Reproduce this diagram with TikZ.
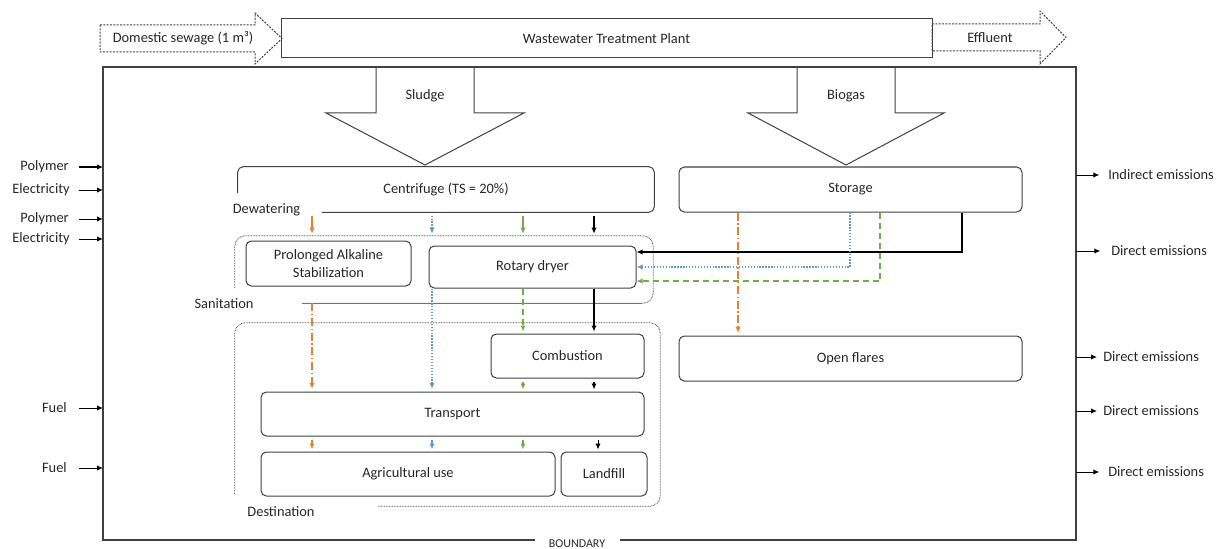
\documentclass[tikz,border=0pt]{standalone}
\usepackage{fontspec}
\setmainfont{Carlito}
\usepackage{tikz}
\usetikzlibrary{arrows.meta}

\definecolor{flowOrange}{RGB}{237,125,49}
\definecolor{flowBlue}{RGB}{91,155,213}
\definecolor{flowGreen}{RGB}{112,173,71}
\definecolor{lineGray}{RGB}{64,64,64}

\tikzset{
    boxsize/.style 2 args={minimum width=#1*0.75pt, minimum height=#2*0.75pt},
    procbox/.style={draw=lineGray, line width=0.75pt, rounded corners=4pt, inner sep=0pt, align=center},
    procline/.style={draw=lineGray, line width=0.75pt, rounded corners=4pt},
    regionline/.style={draw=black!70, line width=0.6pt, dash pattern=on 0.6pt off 0.6pt, rounded corners=8pt},
    bigarrow/.style={draw=lineGray, line width=0.75pt},
    dashedarrow/.style={draw=lineGray, line width=0.75pt, dash pattern=on 1.5pt off 1pt},
    bndline/.style={draw=lineGray, line width=0.9pt},
    sidelabel/.style={inner sep=0pt},
    sidearrow/.style={line width=0.75pt},
    oflow/.style={draw=flowOrange, line width=1.1pt, dash pattern=on 6pt off 2pt on 1pt off 2pt},
    bflow/.style={draw=flowBlue, line width=1.1pt, dash pattern=on 1pt off 1.2pt},
    gflow/.style={draw=flowGreen, line width=1.1pt, dash pattern=on 4.5pt off 3pt},
    kflow/.style={draw=black, line width=1.1pt},
    shortflow/.style={line width=1pt, shorten <=2.5pt, shorten >=1.5pt}
}

\begin{document}
\begin{tikzpicture}[x=0.75pt, y=-0.75pt, text=black!85,
        font=\fontsize{10.8}{13}\selectfont, >={Latex[length=4.5pt,width=4pt]}]
    \pgfmathsetmacro{\bndLeft}{103}
    \pgfmathsetmacro{\bndRight}{1076}
    \pgfmathsetmacro{\bndTop}{67}
    \pgfmathsetmacro{\bndBottom}{540}
    \pgfmathsetmacro{\laneO}{312}
    \pgfmathsetmacro{\laneB}{432}
    \pgfmathsetmacro{\laneG}{523}
    \pgfmathsetmacro{\laneK}{594}

    \useasboundingbox (0,0) rectangle (1216,549);

    \coordinate (bndL) at (\bndLeft,\bndTop);
    \coordinate (bndR) at (\bndRight,\bndTop);
    \coordinate (lo) at (\laneO,0);
    \coordinate (lb) at (\laneB,0);
    \coordinate (lg) at (\laneG,0);
    \coordinate (lk) at (\laneK,0);
    \coordinate (so) at (738,0);
    \coordinate (sb) at (850,0);
    \coordinate (sg) at (880,0);
    \coordinate (sk) at (962,0);

    % plant and its in/out
    \draw[dashedarrow] (100,25) -- (255,25) -- (255,13) -- (282,38.5) -- (255,64) -- (255,52) -- (100,52) -- cycle;
    \node (sewage) at (183,38.5) {Domestic sewage (1 m³)};
    \node[procbox, boxsize={651}{39}, rounded corners=0pt] (wwtp) at (606.5,38.5) {Wastewater Treatment Plant};
    \draw[dashedarrow] (932,24) -- (1040,24) -- (1040,11) -- (1066,37.5) -- (1040,64) -- (1040,51) -- (932,51) -- cycle;
    \node (effl) at (990,37.5) {Effluent};

    \draw[bndline] (535,\bndBottom) -| (bndL) -| (\bndRight,\bndBottom) -- (620,\bndBottom);
    \node[font=\fontsize{9}{10}\selectfont, inner sep=0pt] (bound) at (577,543.5) {BOUNDARY};

    \draw[bigarrow] (376,\bndTop) -- (376,113) -- (326,113) -- (425,165) -- (524,113) -- (474,113) -- (474,\bndTop);
    \node (sludge) at (425,96) {Sludge};
    \draw[bigarrow] (797,\bndTop) -- (797,113) -- (748,113) -- (846,165) -- (944,113) -- (895,113) -- (895,\bndTop);
    \node (biogas) at (846,96) {Biogas};

    % sludge line
    \node[boxsize={416}{45}] (cent) at (446,189.5) {Centrifuge (TS = 20\%)};
    \draw[procline] (cent.west |- 0,193) |- (cent.north east) |- (322,0 |- cent.south);
    \node (dewat) at (266.5,210) {Dewatering};

    \node[boxsize={418}{67}] (sanit) at (444,269.5) {};
    \draw[regionline] (sanit.west |- 0,288) |- (sanit.north east) |- (302,0 |- sanit.south);
    \draw[draw=black!55, line width=0.6pt] (302,0 |- sanit.south) -- (642,0 |- sanit.south);
    \node (sanlab) at (224,304) {Sanitation};
    \node[procbox, boxsize={165}{45}] (pas) at (328.5,263.5) {Prolonged Alkaline\\Stabilization};
    \node[procbox, boxsize={207}{42}] (dryer) at (532.5,267) {Rotary dryer};

    \node[boxsize={425}{183}] (dest) at (447.5,414.5) {};
    \draw[regionline] (dest.west |- 0,494) |- (dest.north east) |- (377,0 |- dest.south);
    \node (destlab) at (281,512) {Destination};
    \node[procbox, boxsize={153}{44}] (comb) at (567.5,356) {Combustion};
    \node[procbox, boxsize={383}{44}] (trans) at (452.5,414) {Transport};
    \node[procbox, boxsize={294}{44}] (agri) at (408,474) {Agricultural use};
    \node[procbox, boxsize={86}{44}] (land) at (604,474) {Landfill};

    % biogas line
    \node[procbox, boxsize={343}{45}] (stor) at (850.5,189.5) {Storage};
    \node[procbox, boxsize={343}{45}] (flare) at (850.5,358.5) {Open flares};

    % routes
    \draw[->, shortflow, flowOrange] (cent.south -| lo) -- (sanit.north -| lo);
    \draw[->, bflow, shorten <=2.5pt, shorten >=1.5pt] (cent.south -| lb) -- (sanit.north -| lb);
    \draw[->, shortflow, flowGreen] (cent.south -| lg) -- (sanit.north -| lg);
    \draw[->, shortflow, black] (cent.south -| lk) -- (sanit.north -| lk);

    \draw[->, kflow] (stor.south -| sk) |- ([yshift=11.25pt]dryer.east);
    \draw[->, bflow] (stor.south -| sb) |- (dryer.east);
    \draw[->, gflow] (stor.south -| sg) |- ([yshift=-10.5pt]dryer.east);

    \draw[->, oflow, shorten >=2pt] (sanit.south -| lo) -- (trans.north -| lo);
    \draw[->, bflow, shorten >=2pt] (dryer.south -| lb) -- (trans.north -| lb);
    \draw[->, gflow, shorten >=1.5pt] (dryer.south -| lg) -- (comb.north -| lg);
    \draw[->, kflow, shorten >=1.5pt] (dryer.south -| lk) -- (comb.north -| lk);

    \draw[->, shortflow, flowGreen] (comb.south -| lg) -- (trans.north -| lg);
    \draw[->, shortflow, black] (comb.south -| lk) -- (trans.north -| lk);
    \draw[->, shortflow, flowOrange] (trans.south -| lo) -- (agri.north -| lo);
    \draw[->, shortflow, flowBlue] (trans.south -| lb) -- (agri.north -| lb);
    \draw[->, shortflow, flowGreen] (trans.south -| lg) -- (agri.north -| lg);
    \draw[->, shortflow, black, line width=0.75pt] (trans.south -| land.north) ++(-6,0) -- ([xshift=-4.5pt]land.north);

    \draw[->, oflow, shorten >=2pt] (stor.south -| so) -- (flare.north -| so);

    % inputs
    \node[sidelabel, anchor=east] (poly1) at (69,167) {Polymer};
    \node[sidelabel, anchor=east] (elec1) at (70,190) {Electricity};
    \node[sidelabel, anchor=east] (poly2) at (69,219) {Polymer};
    \node[sidelabel, anchor=east] (elec2) at (70,239) {Electricity};
    \node[sidelabel, anchor=east] (fuel1) at (67,408) {Fuel};
    \node[sidelabel, anchor=east] (fuel2) at (67,468) {Fuel};
    \draw[->, sidearrow, shorten <=7.5pt] (poly1.east) -- (poly1.east -| bndL);
    \draw[->, sidearrow, shorten <=6.5pt] (elec1.east) -- (elec1.east -| bndL);
    \draw[->, sidearrow, shorten <=7.5pt] (poly2.east) -- (poly2.east -| bndL);
    \draw[->, sidearrow, shorten <=6.5pt] (elec2.east) -- (elec2.east -| bndL);
    \draw[->, sidearrow, shorten <=9pt] (fuel1.east) -- (fuel1.east -| bndL);
    \draw[->, sidearrow, shorten <=9pt] (fuel2.east) -- (fuel2.east -| bndL);

    % outputs
    \node[sidelabel, anchor=west] (indir) at (1108,175) {Indirect emissions};
    \node[sidelabel, anchor=west] (dir1) at (1111,251) {Direct emissions};
    \node[sidelabel, anchor=west] (dir2) at (1103,357) {Direct emissions};
    \node[sidelabel, anchor=west] (dir3) at (1103,411) {Direct emissions};
    \node[sidelabel, anchor=west] (dir4) at (1108,472) {Direct emissions};
    \draw[->, sidearrow, shorten >=6.5pt] (indir.west -| bndR) -- (indir.west);
    \draw[->, sidearrow, shorten >=8pt] (dir1.west -| bndR) -- (dir1.west);
    \draw[->, sidearrow, shorten >=4.5pt] (dir2.west -| bndR) -- (dir2.west);
    \draw[->, sidearrow, shorten >=4.5pt] (dir3.west -| bndR) -- (dir3.west);
    \draw[->, sidearrow, shorten >=6.5pt] (dir4.west -| bndR) -- (dir4.west);
\end{tikzpicture}
\end{document}
